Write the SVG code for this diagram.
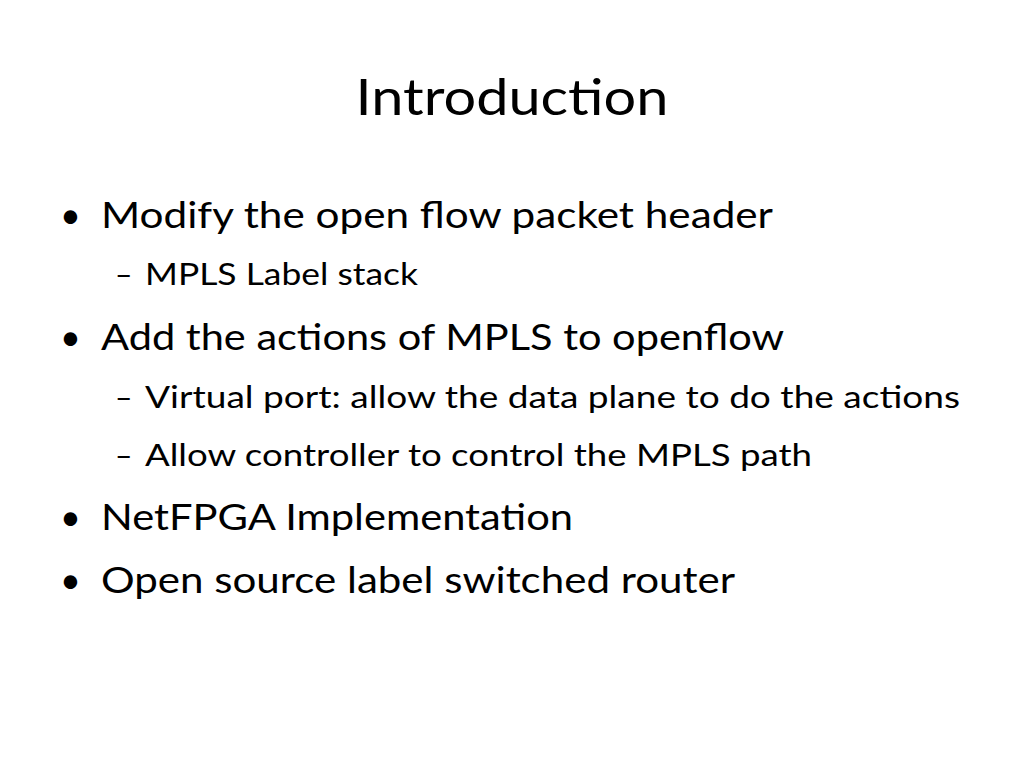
<svg xmlns="http://www.w3.org/2000/svg" width="1024" height="768" viewBox="0 0 1024 768">
<style>
text{font-family:Lato,"Open Sans","Liberation Sans",sans-serif;fill:#000}
.t{font-size:50px}
.b{font-size:36px}
.s{font-size:30px}
</style>
<rect width="1024" height="768" fill="#fff"/>
<text class="t" x="512" y="115" text-anchor="middle" textLength="313" lengthAdjust="spacingAndGlyphs">Introduction</text>
<g class="b">
<text x="60" y="228">•</text><text x="101" y="228" textLength="672" lengthAdjust="spacingAndGlyphs">Modify the open flow packet header</text>
<text x="60" y="350">•</text><text x="101" y="350" textLength="683" lengthAdjust="spacingAndGlyphs">Add the actions of MPLS to openflow</text>
<text x="60" y="530">•</text><text x="101" y="530" textLength="472" lengthAdjust="spacingAndGlyphs">NetFPGA Implementation</text>
<text x="60" y="593">•</text><text x="101" y="593" textLength="634" lengthAdjust="spacingAndGlyphs">Open source label switched router</text>
</g>
<g class="s">
<text x="115" y="285">–</text><text x="145" y="285" textLength="273" lengthAdjust="spacingAndGlyphs">MPLS Label stack</text>
<text x="115" y="408">–</text><text x="145" y="408" textLength="815" lengthAdjust="spacingAndGlyphs">Virtual port: allow the data plane to do the actions</text>
<text x="115" y="466">–</text><text x="145" y="466" textLength="667" lengthAdjust="spacingAndGlyphs">Allow controller to control the MPLS path</text>
</g>
</svg>
